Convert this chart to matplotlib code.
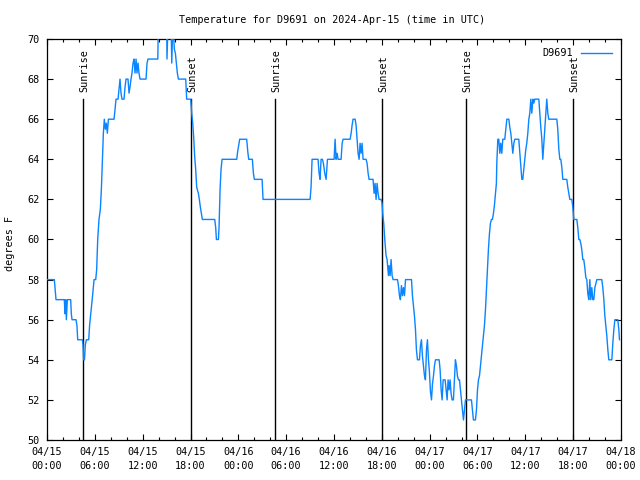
import matplotlib
matplotlib.use("Agg")
import matplotlib.pyplot as plt
from matplotlib.ticker import MultipleLocator

plt.rcParams['font.family'] = ['DejaVu Sans Mono']
plt.rcParams['font.size'] = 7.3

title = "Temperature for D9691 on 2024-Apr-15 (time in UTC)"
series_name = "D9691"
y_label = "degrees F"

# hours since 2024-04-15 00:00 UTC
hours = [0.00, 0.92, 1.13, 2.17, 2.26, 2.34, 2.43, 2.55, 2.97, 3.05, 3.14, 3.64, 3.76, 3.85,
         4.43, 4.52, 4.60, 4.70, 4.81, 4.94, 5.23, 5.35, 5.48, 5.60, 5.73, 5.90, 6.11, 6.23,
         6.36, 6.52, 6.69, 6.82, 6.94, 7.07, 7.19, 7.32, 7.44, 7.57, 7.70, 8.41, 8.54, 8.66,
         8.91, 9.03, 9.16, 9.28, 9.41, 9.66, 9.79, 9.91, 10.16, 10.29, 10.41, 10.54, 10.66,
         10.79, 10.92, 11.04, 11.17, 11.29, 11.42, 11.54, 11.67, 12.42, 12.55, 12.67, 13.90,
         13.97, 15.00, 15.05, 15.20, 15.55, 15.65, 15.80, 15.97, 16.10, 16.23, 16.35, 16.48,
         17.40, 17.52, 18.03, 18.15, 18.28, 18.40, 18.53, 18.65, 18.78, 18.99, 19.11, 19.24,
         19.36, 19.49, 21.04, 21.16, 21.25, 21.50, 21.58, 21.71, 21.83, 21.96, 23.80, 23.92,
         24.05, 24.17, 25.05, 25.18, 25.30, 25.76, 25.89, 26.01, 26.98, 27.10, 33.00, 33.12,
         33.25, 34.00, 34.13, 34.25, 34.38, 34.55, 34.67, 34.84, 35.01, 35.18, 36.01, 36.14,
         36.26, 36.39, 36.51, 36.89, 37.02, 37.14, 38.02, 38.15, 38.27, 38.39, 38.65, 38.77,
         38.90, 39.02, 39.15, 39.27, 39.40, 39.52, 39.65, 40.02, 40.15, 40.28, 40.40, 40.90,
         41.03, 41.15, 41.28, 41.40, 41.53, 41.65, 41.91, 42.03, 42.11, 42.24, 42.37, 42.53,
         42.66, 42.83, 42.91, 43.04, 43.16, 43.29, 43.41, 43.96, 44.08, 44.21, 44.33, 44.46,
         44.59, 44.71, 44.84, 44.97, 45.72, 45.84, 45.97, 46.09, 46.22, 46.34, 46.47, 46.72,
         46.84, 46.97, 47.09, 47.22, 47.35, 47.47, 47.60, 47.72, 47.85, 47.97, 48.10, 48.23,
         48.35, 48.48, 48.60, 48.73, 49.19, 49.31, 49.44, 49.56, 49.69, 49.94, 50.06, 50.19,
         50.31, 50.44, 50.56, 50.69, 50.82, 50.98, 51.11, 51.23, 51.36, 51.48, 51.61, 51.74,
         51.86, 51.99, 52.11, 52.24, 52.36, 52.49, 53.24, 53.37, 53.49, 53.74, 53.87, 54.00,
         54.12, 54.25, 54.37, 54.50, 54.62, 54.75, 54.87, 55.00, 55.12, 55.25, 55.37, 55.50,
         55.62, 55.75, 55.87, 56.00, 56.12, 56.25, 56.37, 56.42, 56.55, 56.67, 56.80, 56.92,
         57.05, 57.17, 57.42, 57.55, 57.68, 57.93, 58.05, 58.18, 58.30, 58.43, 58.56, 58.68,
         59.18, 59.31, 59.43, 59.56, 59.68, 59.81, 59.93, 60.06, 60.18, 60.31, 60.44, 60.56,
         60.69, 60.81, 60.94, 61.06, 61.19, 61.69, 61.81, 61.94, 62.07, 62.19, 62.32, 62.44,
         62.57, 62.69, 62.82, 62.94, 63.95, 64.07, 64.20, 64.33, 64.45, 64.58, 64.70, 65.20,
         65.33, 65.45, 65.58, 65.83, 65.96, 66.08, 66.46, 66.58, 66.71, 66.83, 66.96, 67.08,
         67.21, 67.33, 67.46, 67.59, 67.71, 67.84, 67.96, 68.09, 68.21, 68.34, 68.46, 68.59,
         68.72, 68.84, 68.97, 69.59, 69.72, 69.85, 69.97, 70.10, 70.22, 70.35, 70.47, 70.85,
         70.97, 71.10, 71.23, 71.60, 71.73, 71.81]

temps = [58, 58, 57, 57, 56.3, 57, 56, 57, 57, 56.3, 56, 56, 55.7, 55,
         55, 54.75, 54, 54, 54.75, 55, 55, 55.75, 56.25, 56.75, 57.25, 58, 58, 58.5,
         60, 61, 61.5, 62.5, 63.8, 65.3, 66, 65.5, 65.8, 65.3, 66, 66, 66.5, 67,
         67, 67.5, 68, 67.3, 67, 67, 67.6, 68, 68, 67.3, 67.6, 68, 68.3,
         68.8, 69, 68.3, 69, 68.3, 68.8, 68.3, 68, 68, 68.8, 69, 69,
         71, 71, 69, 71, 71, 68.8, 71, 69.5, 69.3, 68.8, 68.3, 68,
         68, 67, 67, 66.3, 65.8, 65.1, 64.1, 63.5, 62.6, 62.3, 62, 61.6,
         61.3, 61, 61, 60.6, 60, 60, 60.6, 62.5, 63.5, 64, 64, 64.4,
         64.7, 65, 65, 64.4, 64, 64, 63.3, 63, 63, 62, 62, 62.6,
         64, 64, 63.3, 63, 64, 64, 63.8, 63.3, 63, 64, 64, 65,
         64, 64.3, 64, 64, 64.8, 65, 65, 65.3, 65.7, 66, 66, 65.7,
         65, 64.3, 64, 64.8, 64.3, 64.8, 64, 64, 63.8, 63.3, 63, 63,
         62.3, 62.8, 62, 62.8, 62.3, 62, 62, 61.8, 61.3, 60.8, 60, 59.2,
         59, 58.2, 58.7, 58.2, 59, 58.2, 58, 58, 57.7, 57.2, 57, 57.7,
         57.2, 57.6, 57.2, 58, 58, 57.2, 56.7, 56.2, 55.5, 54.5, 54, 54,
         54.7, 55, 54.2, 53.7, 53.2, 53, 54.5, 55, 54, 53.4, 52.4, 52,
         52.8, 53.2, 53.7, 54, 54, 53.5, 52.5, 52, 53, 53, 52.5, 52,
         53, 52.5, 53, 52.3, 52, 52, 53, 54, 53.7, 53.2, 53, 53,
         52.5, 52, 51.5, 51, 51.5, 52, 52, 51.5, 51, 51, 51.5, 52.5,
         53, 53.2, 53.7, 54.2, 54.7, 55.2, 55.7, 56.5, 57.5, 58.5, 59.5, 60.3,
         60.8, 61, 61, 61.3, 61.7, 62.3, 62.8, 63.8, 65, 65, 64.3, 64.8,
         64.3, 65, 65, 65.5, 66, 66, 65.6, 65.3, 64.8, 64.3, 64.8, 65,
         65, 64.3, 63.6, 63, 63, 63.5, 64, 64.5, 64.8, 65.3, 66, 66.3,
         67, 66.3, 67, 66.8, 67, 67, 66.3, 65.6, 65, 64, 64.8, 65.6,
         66.3, 67, 66.3, 66, 66, 65.5, 64.5, 64, 64, 63.6, 63, 63,
         62.6, 62.3, 62, 62, 61.6, 61, 61, 60.6, 60, 60, 59.8, 59.5,
         59, 59, 58.6, 58.1, 58, 57.3, 57, 58, 57, 57.6, 57, 57,
         57.6, 57.8, 58, 58, 57.6, 57, 56.2, 55.7, 55.2, 54.5, 54, 54,
         54.8, 55.5, 56, 56, 55.5, 55]

sunrise_hours = [4.55, 28.62, 52.60]
sunset_hours = [18.03, 42.07, 66.04]

xtick_hours = [0, 6, 12, 18, 24, 30, 36, 42, 48, 54, 60, 66, 72]
xtick_labels = ["04/15\n00:00", "04/15\n06:00", "04/15\n12:00", "04/15\n18:00",
                "04/16\n00:00", "04/16\n06:00", "04/16\n12:00", "04/16\n18:00",
                "04/17\n00:00", "04/17\n06:00", "04/17\n12:00", "04/17\n18:00",
                "04/18\n00:00"]
ytick_values = [50, 52, 54, 56, 58, 60, 62, 64, 66, 68, 70]

fig = plt.figure(figsize=(6.4, 4.8), dpi=100)
ax = fig.add_axes([47/640, 40/480, 574/640, 401/480])

line_color = '#0a84ff'
ax.plot(hours, temps, color=line_color, lw=1.0, label=series_name, zorder=3)

for h in sunrise_hours:
    ax.plot([h, h], [50, 67], color='black', lw=1.0, zorder=2)
    ax.text(h + 0.15, 67.35, "Sunrise", rotation=90, ha='center', va='bottom')
for h in sunset_hours:
    ax.plot([h, h], [50, 67], color='black', lw=1.0, zorder=2)
    ax.text(h + 0.15, 67.35, "Sunset", rotation=90, ha='center', va='bottom')

ax.set_xlim(0, 72)
ax.set_ylim(50, 70)
ax.set_xticks(xtick_hours)
ax.set_xticklabels(xtick_labels, linespacing=1.45)
ax.xaxis.set_minor_locator(MultipleLocator(2))
ax.set_yticks(ytick_values)

ax.tick_params(axis='both', which='major', direction='in', length=4.3, width=0.8,
               top=True, right=True, color='black')
ax.tick_params(axis='x', which='minor', direction='in', length=2.5, width=0.8,
               top=True, bottom=True)
ax.tick_params(axis='x', which='major', pad=5)
ax.tick_params(axis='y', which='major', pad=5.5)

for s in ax.spines.values():
    s.set_linewidth(0.9)
    s.set_color('black')

ax.set_ylabel(y_label)
ax.yaxis.set_label_coords(-0.0557, 0.491)

fig.text(332/640, 1 - 20/480, title, ha='center', va='center')

ax.legend(loc='upper right', frameon=False, markerfirst=False, handlelength=3.0,
          handletextpad=0.8, borderaxespad=0.5, borderpad=0.4)

fig.savefig("out.png", dpi=100)
